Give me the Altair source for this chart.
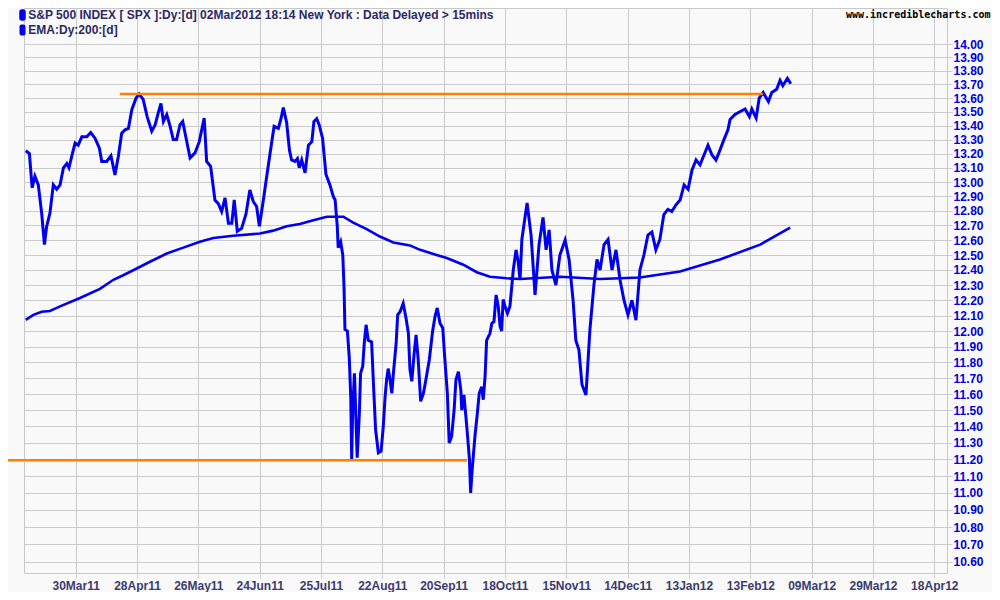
import altair as alt
import pandas as pd

# ---------------- data ----------------
# trading-day index: 0 = 30Mar11, ticks every 20 trading days
x_tick_days = [0, 20, 40, 60, 80, 100, 120, 140, 160, 180, 200, 220, 240, 260, 280]
x_tick_labels = ["30Mar11", "28Apr11", "26May11", "24Jun11", "25Jul11", "22Aug11",
                 "20Sep11", "18Oct11", "15Nov11", "14Dec11", "13Jan12", "13Feb12",
                 "09Mar12", "29Mar12", "18Apr12"]
y_ticks = [10.6, 10.7, 10.8, 10.9, 11.0, 11.1, 11.2, 11.3, 11.4, 11.5, 11.6, 11.7,
           11.8, 11.9, 12.0, 12.1, 12.2, 12.3, 12.4, 12.5, 12.6, 12.7, 12.8, 12.9,
           13.0, 13.1, 13.2, 13.3, 13.4, 13.5, 13.6, 13.7, 13.8, 13.9, 14.0]

price_day = [-16.3, -15.1, -14.2, -13.3, -12.2, -11.1, -10.2, -9.5, -8.4, -7.3, -6.2, -5.1,
             -4.0, -2.9, -2.2, -1.3, -0.2, 0.8, 2.0, 3.6, 4.9, 6.3, 7.7, 8.5, 10.1, 11.5,
             12.8, 13.9, 15.0, 16.1, 17.2, 18.3, 19.7, 20.7, 22.0, 23.3, 24.8, 25.9, 26.9,
             27.8, 28.6, 29.7, 30.8, 31.8, 32.9, 34.0, 34.9, 36.0, 37.3, 38.9, 40.3, 41.1,
             41.9, 42.7, 44.0, 45.4, 46.5, 47.6, 48.7, 49.8, 50.9, 51.7, 52.7, 54.1, 55.5,
             56.8, 57.9, 59.0, 59.9, 61.2, 62.3, 63.4, 64.7, 66.1, 67.0, 67.7, 68.8, 69.7,
             70.4, 71.5, 72.3, 72.9, 73.7, 74.8, 75.9, 77.0, 77.7, 78.6, 79.4, 80.5, 81.6,
             82.9, 84.0, 84.6, 85.3, 85.6, 86.4, 87.1, 87.5, 87.8, 88.6, 89.2, 89.7, 90.0,
             90.3, 90.9, 91.4, 91.8, 92.5, 92.9, 93.6, 94.1, 94.7, 95.4, 96.5, 97.1, 97.8,
             98.7, 99.6, 100.3, 100.9, 101.4, 101.9, 102.5, 103.1, 103.6, 104.5, 105.0,
             105.8, 106.8, 107.7, 108.5, 109.0, 109.6, 110.4, 111.0, 111.7, 112.5, 113.4,
             114.2, 115.3, 116.4, 117.2, 117.9, 118.8, 119.7, 120.4, 121.2, 121.8, 122.6,
             123.4, 124.0, 124.8, 125.6, 125.9, 126.6, 127.3, 127.8, 128.4, 128.8, 129.3,
             130.2, 131.0, 131.6, 132.4, 132.9, 133.5, 134.0, 135.1, 135.7, 136.4, 137.1,
             137.8, 138.4, 138.9, 139.4, 140.0, 140.8, 141.6, 142.2, 142.7, 143.6, 144.3,
             144.9, 145.5, 147.2, 148.5, 149.8, 151.1, 152.4, 153.4, 154.4, 155.3, 156.6,
             157.9, 159.6, 160.9, 162.2, 163.1, 164.1, 165.1, 166.4, 167.7, 169.0, 170.0,
             171.0, 172.3, 173.6, 174.9, 176.2, 177.5, 178.8, 180.1, 181.4, 182.7, 184.0,
             185.3, 186.6, 187.9, 189.2, 190.5, 191.8, 193.1, 194.4, 195.7, 197.1, 198.4,
             199.7, 201.0, 202.3, 203.6, 204.9, 206.2, 207.5, 208.8, 210.1, 211.4, 212.7,
             213.4, 215.0, 216.6, 218.3, 219.7, 220.5, 221.9, 222.9, 224.2, 225.9, 227.0,
             228.6, 229.7, 230.6, 232.1, 233.2]
price_val = [13.22, 13.20, 12.96, 13.04, 12.98, 12.785, 12.57, 12.69, 12.785, 12.98, 12.95, 12.98,
             13.10, 13.13, 13.10, 13.18, 13.275, 13.26, 13.32, 13.32, 13.35, 13.31, 13.24, 13.145,
             13.145, 13.185, 13.05, 13.18, 13.345, 13.37, 13.38, 13.515, 13.60, 13.63, 13.59,
             13.465, 13.36, 13.405, 13.49, 13.56, 13.43, 13.48, 13.395, 13.30, 13.30, 13.405,
             13.43, 13.31, 13.17, 13.205, 13.285, 13.37, 13.455, 13.145, 13.11, 12.875, 12.85,
             12.795, 12.89, 12.715, 12.715, 12.875, 12.66, 12.68, 12.775, 12.945, 12.865, 12.83,
             12.695, 12.875, 13.04, 13.205, 13.395, 13.38, 13.455, 13.53, 13.42, 13.225, 13.155,
             13.145, 13.165, 13.10, 13.155, 13.065, 13.26, 13.285, 13.43, 13.45, 13.405, 13.31,
             13.055, 12.98, 12.90, 12.875, 12.695, 12.55, 12.59, 12.50, 12.29, 12.01, 12.00,
             11.835, 11.58, 11.20, 11.48, 11.73, 11.44, 11.21, 11.48, 11.73, 11.775, 11.92,
             12.04, 11.94, 11.93, 11.665, 11.38, 11.24, 11.25, 11.40, 11.585, 11.69, 11.76,
             11.69, 11.605, 11.73, 11.92, 12.105, 12.125, 12.18, 12.085, 11.985, 11.755, 11.68,
             11.86, 11.975, 11.815, 11.555, 11.605, 11.69, 11.815, 12.00, 12.095, 12.15, 12.05,
             12.02, 11.815, 11.605, 11.30, 11.34, 11.50, 11.69, 11.74, 11.625, 11.50, 11.595,
             11.45, 11.34, 11.20, 11.00, 11.14, 11.34, 11.485, 11.605, 11.645, 11.565, 11.71,
             11.94, 11.985, 12.05, 12.06, 12.235, 12.16, 12.03, 12.00, 12.205, 12.16, 12.115,
             12.16, 12.29, 12.40, 12.535, 12.455, 12.335, 12.605, 12.855, 12.635, 12.235, 12.57,
             12.755, 12.535, 12.67, 12.40, 12.30, 12.50, 12.60, 12.47, 12.20, 11.94, 11.88,
             11.66, 11.595, 12.01, 12.30, 12.47, 12.40, 12.57, 12.605, 12.40, 12.535, 12.335,
             12.20, 12.105, 12.20, 12.07, 12.40, 12.50, 12.635, 12.655, 12.535, 12.605, 12.775,
             12.81, 12.795, 12.84, 12.875, 12.98, 12.95, 13.085, 13.155, 13.12, 13.19, 13.26,
             13.19, 13.155, 13.225, 13.30, 13.37, 13.445, 13.48, 13.50, 13.52, 13.465, 13.52,
             13.455, 13.60, 13.64, 13.575, 13.64, 13.665, 13.73, 13.69, 13.745, 13.705]

ema_day = [-16.3, -13.8, -11.1, -8.4, -5.1, 1.4, 7.9, 12.3, 15.5, 19.9, 24.2, 29.7, 35.1,
           40.5, 44.9, 51.4, 60.1, 64.4, 68.8, 73.1, 77.5, 81.9, 85.1, 87.3, 90.5, 94.9,
           99.2, 103.6, 109.0, 112.3, 117.7, 121.0, 126.4, 130.8, 135.1, 140.6, 144.9,
           158.0, 171.0, 184.0, 197.1, 210.1, 223.2, 233.0]
ema_val = [12.072, 12.105, 12.125, 12.13, 12.16, 12.215, 12.275, 12.335, 12.365, 12.41,
           12.455, 12.51, 12.55, 12.59, 12.615, 12.63, 12.645, 12.665, 12.695, 12.71, 12.735,
           12.76, 12.76, 12.76, 12.72, 12.675, 12.625, 12.585, 12.565, 12.535, 12.50, 12.48,
           12.435, 12.385, 12.355, 12.345, 12.34, 12.355, 12.34, 12.35, 12.39, 12.47, 12.57,
           12.685]

level_val = [13.63, 11.195]
level_start = [14.4, -24.7]
level_end = [224.1, 127.6]

# ---------------- styling ----------------
BLUE = "#0000ee"
ORANGE = "#ff8000"
GRID = "#cbcbcb"
W, H = 923, 565

label_js = "[" + ",".join("'%s'" % s for s in x_tick_labels) + "][round(datum.value/20)]"

x_scale = alt.Scale(domain=[-16.86, 284.14], nice=False, zero=False)
y_scale = alt.Scale(type="log", domain=[10.537, 14.2742], nice=False, zero=False)

x_axis = alt.Axis(values=x_tick_days, labelExpr=label_js, title=None, orient="bottom",
                  grid=True, gridColor=GRID, tickColor=GRID, tickSize=5, domain=False,
                  labelFont="Liberation Sans", labelFontSize=12, labelFontWeight="bold",
                  labelColor="#3c3c6c", labelPadding=2, labelFlush=False, labelOverlap=False)
y_axis = alt.Axis(values=y_ticks, format=".2f", title=None, orient="right",
                  grid=True, gridColor=GRID, tickColor=GRID, tickSize=5, domain=False,
                  labelFont="Liberation Sans", labelFontSize=12, labelFontWeight="bold",
                  labelColor="#0000dd", labelPadding=1, labelFlush=False, labelOverlap=False,
                  labelAlign="left", labelBaseline="middle")

price_df = pd.DataFrame({"day": price_day, "value": price_val})
ema_df = pd.DataFrame({"day": ema_day, "value": ema_val})
level_df = pd.DataFrame({"day": level_start, "day_end": level_end, "value": level_val})

ema = alt.Chart(ema_df).mark_line(color=BLUE, strokeWidth=2.6).encode(
    x=alt.X("day:Q", scale=x_scale, axis=x_axis),
    y=alt.Y("value:Q", scale=y_scale, axis=y_axis),
    order="day:Q",
)
price = alt.Chart(price_df).mark_line(color=BLUE, strokeWidth=3).encode(
    x=alt.X("day:Q", scale=x_scale, axis=x_axis),
    y=alt.Y("value:Q", scale=y_scale, axis=y_axis),
    order="day:Q",
)
levels = alt.Chart(level_df).mark_rule(color=ORANGE, strokeWidth=2.6).encode(
    x=alt.X("day:Q", scale=x_scale, axis=x_axis),
    x2="day_end:Q",
    y=alt.Y("value:Q", scale=y_scale, axis=y_axis),
)

one = pd.DataFrame({"k": [0]})
legend_boxes = alt.Chart(pd.DataFrame({"k": [0, 1]})).mark_rect(
    color=BLUE, cornerRadius=2).encode(
    x=alt.value(-4.5), x2=alt.value(1.5),
    y=alt.YValue if False else alt.value(1.5), y2=alt.value(12.5))
legend_box2 = alt.Chart(one).mark_rect(color=BLUE, cornerRadius=2).encode(
    x=alt.value(-4.5), x2=alt.value(1.5), y=alt.value(16.5), y2=alt.value(27.5))

title1 = alt.Chart(one).mark_text(
    text="S&P 500 INDEX [ SPX ]:Dy:[d]  02Mar2012 18:14 New York : Data Delayed > 15mins",
    align="left", baseline="middle", font="Liberation Sans", fontSize=12,
    fontWeight="bold", color="#2a2a64").encode(x=alt.value(4.3), y=alt.value(7))
title2 = alt.Chart(one).mark_text(
    text="EMA:Dy:200:[d]", align="left", baseline="middle", font="Liberation Sans",
    fontSize=12, fontWeight="bold", color="#2a2a64").encode(x=alt.value(4.3), y=alt.value(22))
watermark = alt.Chart(one).mark_text(
    text="www.incrediblecharts.com", align="right", baseline="middle",
    font="DejaVu Sans Mono", fontSize=10, fontWeight="bold", color="#000000").encode(
    x=alt.value(966.5), y=alt.value(7))

chart = alt.layer(
    ema, price, levels, legend_boxes, legend_box2, title1, title2, watermark
).properties(
    width=W, height=H,
    autosize=alt.AutoSizeParams(type="none"),
    padding={"left": 16, "top": 0, "right": 45, "bottom": 19},
).configure(
    background="#f9f9f9",
).configure_view(
    stroke="#c8c8c8", strokeWidth=1,
)

chart.save("out.html", embed_options={"renderer": "svg", "actions": False})
